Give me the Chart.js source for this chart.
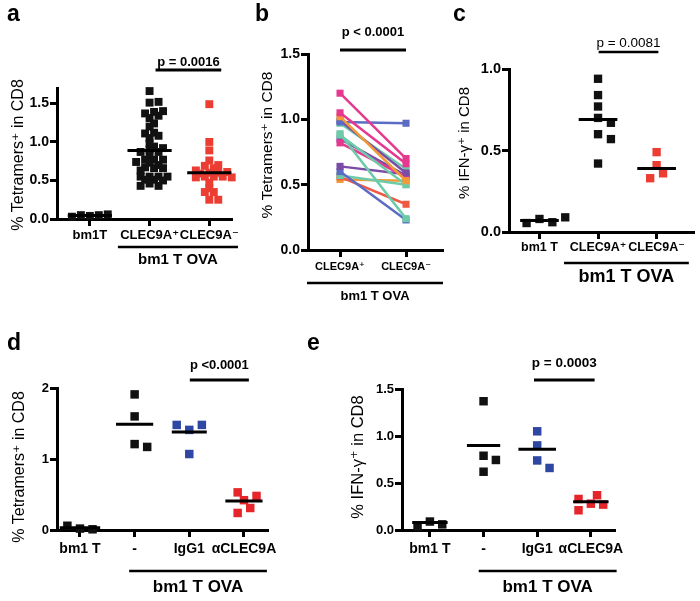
<!DOCTYPE html>
<html><head><meta charset="utf-8">
<script src="https://cdn.jsdelivr.net/npm/chart.js"></script>
<style>
html,body{margin:0;padding:0;background:#fff;}
#wrap{position:relative;width:700px;height:601px;overflow:hidden;background:#fff;}
#wrap canvas{position:absolute;left:0;top:0;}
</style></head><body>
<div id="wrap">
<canvas id="pa" width="700" height="601"></canvas>
<canvas id="pb" width="700" height="601"></canvas>
<canvas id="pc" width="700" height="601"></canvas>
<canvas id="pd" width="700" height="601"></canvas>
<canvas id="pe" width="700" height="601"></canvas>
</div>
<script>
// ---------------- DATA ----------------
// Panel a
const catsA = ['bm1T', 'CLEC9A\u207A', 'CLEC9A\u207B'];
const aBm1T = [0.05, 0.04, 0.06, 0.03, 0.05];
const aPos = [1.66, 1.51, 1.52, 1.40, 1.37, 1.31, 1.34, 1.39, 1.20, 1.24, 1.11, 1.12, 1.05, 1.08,
              0.98, 0.90, 0.87, 0.94, 0.92, 0.83, 0.87, 0.74, 0.77, 0.77, 0.77, 0.73, 0.67, 0.66,
              0.66, 0.63, 0.55, 0.55, 0.55, 0.51, 0.51, 0.46, 0.43, 0.43, 0.50, 0.55, 0.70];
const aNeg = [1.49, 1.00, 0.89, 0.76, 0.69, 0.70, 0.66, 0.63, 0.60, 0.59, 0.60, 0.61, 0.55, 0.54,
              0.54, 0.55, 0.55, 0.47, 0.35, 0.35, 0.40, 0.25, 0.25];
const aMedians = [0.045, 0.89, 0.60];
const aTicks = [0, 0.5, 1.0, 1.5];
const aTickLabels = ['0.0', '0.5', '1.0', '1.5'];

// Panel b (paired)
const catsB = ['CLEC9A\u207A', 'CLEC9A\u207B'];
const bBefore = [1.20, 1.05, 1.02, 0.98, 0.99, 0.97, 0.89, 0.88, 0.82, 0.85, 0.64, 0.60, 0.57, 0.56, 0.54];
const bAfter  = [0.70, 0.66, 0.53, 0.97, 0.59, 0.62, 0.24, 0.50, 0.56, 0.57, 0.58, 0.23, 0.50, 0.35, 0.53];
const bTicks = [0, 0.5, 1.0, 1.5];
const bTickLabels = ['0.0', '0.5', '1.0', '1.5'];

// Panel c
const catsC = ['bm1 T', 'CLEC9A\u207A', 'CLEC9A\u207B'];
const cBm1T = [0.08, 0.055, 0.09, 0.06];
const cPos = [0.94, 0.84, 0.77, 0.70, 0.67, 0.60, 0.57, 0.42];
const cNeg = [0.49, 0.41, 0.36, 0.33];
const cMedians = [0.07, 0.69, 0.39];
const cTicks = [0, 0.5, 1.0];
const cTickLabels = ['0.0', '0.5', '1.0'];

// Panel d
const catsD = ['bm1 T', '-', 'IgG1', '\u03B1CLEC9A'];
const dBm1T = [0.06, 0.01, 0.02];
const dNone = [1.91, 1.60, 1.21, 1.17];
const dIgG1 = [1.48, 1.41, 1.48, 1.07];
const dAnti = [0.48, 0.42, 0.53, 0.24, 0.31];
const dMedians = [0.03, 1.49, 1.38, 0.41];
const dTicks = [0, 1, 2];
const dTickLabels = ['0', '1', '2'];

// Panel e
const catsE = ['bm1 T', '-', 'IgG1', '\u03B1CLEC9A'];
const eBm1T = [0.09, 0.035, 0.06];
const eNone = [1.37, 0.79, 0.745, 0.62];
const eIgG1 = [1.05, 0.90, 0.74, 0.66];
const eAnti = [0.28, 0.37, 0.33, 0.27, 0.21];
const eMedians = [0.08, 0.90, 0.86, 0.30];
const eTicks = [0, 0.5, 1.0, 1.5];
const eTickLabels = ['0.0', '0.5', '1.0', '1.5'];

const pTexts = ['p = 0.0016', 'p < 0.0001', 'p = 0.0081', 'p <0.0001', 'p = 0.0003'];
const groupLabel = 'bm1 T OVA';
const titleTet = '% Tetramers\u207A in CD8';
const titleIfn = '% IFN-\u03B3\u207A in CD8';

// ---------------- STYLE ----------------
const FONT = '"Liberation Sans", Arial, Helvetica, "DejaVu Sans", sans-serif';
const BLACK = '#111111';
const RED_A = '#ec3d33';
const RED = '#e6252b';
const BLUE = '#2d47a2';
const bColors = ['#e5388e', '#e5388e', '#f29a38', '#5c6cc4', '#7b4ca5', '#6ecba9', '#6ecba9', '#6ecba9',
                 '#e5388e', '#7b4ca5', '#7b4ca5', '#5c6cc4', '#6ecba9', '#ef5a45', '#f29a38'];

// dot-plot placement (GraphPad-like swarm), offsets in category units
function swarm(values, center, median, yStep, xStep, thr) {
  const idx = values.map((v, i) => i).sort((a, b) => Math.abs(values[a] - median) - Math.abs(values[b] - median));
  const cands = [0];
  for (let k = 1; k <= 16; k++) cands.push(k * 0.5, -k * 0.5);
  const placed = [];
  const out = new Array(values.length);
  for (const i of idx) {
    const v = values[i];
    for (const c of cands) {
      const ok = placed.every(p => {
        const dx = (p.o - c), dy = (p.v - v) / yStep;
        return dx * dx + dy * dy >= thr * thr - 1e-9;
      });
      if (ok) { placed.push({ v, o: c }); out[i] = { x: center + c * xStep, y: v }; break; }
    }
  }
  return out;
}

function dots(values, center, median, color, r, sw) {
  return {
    data: swarm(values, center, median, sw.y, sw.x, sw.t),
    pointStyle: 'rect', pointRadius: r, pointHoverRadius: r,
    pointBackgroundColor: color, pointBorderWidth: 0, showLine: false, clip: false, order: 2
  };
}
function medianLine(center, m, half, width) {
  return {
    data: [{ x: center - half, y: m }, { x: center + half, y: m }],
    showLine: true, borderColor: '#000', borderWidth: width, pointRadius: 0, clip: false, order: 1
  };
}

const decorPlugin = {
  id: 'panelDecor',
  afterDraw(chart, args, o) {
    const ctx = chart.ctx, xs = chart.scales.x;
    ctx.save();
    ctx.fillStyle = '#000'; ctx.strokeStyle = '#000';
    ctx.font = 'bold ' + o.letter.size + 'px ' + FONT;
    ctx.textAlign = 'left'; ctx.textBaseline = 'alphabetic';
    ctx.fillText(o.letter.text, o.letter.x, o.letter.y);
    ctx.save();
    ctx.translate(o.yTitle.x, o.yTitle.y);
    ctx.rotate(-Math.PI / 2);
    ctx.font = (o.yTitle.weight || 'normal') + ' ' + o.yTitle.size + 'px ' + FONT;
    ctx.textAlign = 'center'; ctx.textBaseline = 'middle';
    ctx.fillText(o.yTitle.text, 0, 0);
    ctx.restore();
    const p = o.p;
    const p1 = xs.getPixelForValue(p.from), p2 = xs.getPixelForValue(p.to);
    ctx.lineWidth = p.lw; ctx.lineCap = 'butt';
    ctx.beginPath(); ctx.moveTo(p1, p.lineY); ctx.lineTo(p2, p.lineY); ctx.stroke();
    ctx.font = p.weight + ' ' + p.size + 'px ' + FONT;
    ctx.textAlign = 'center'; ctx.textBaseline = 'middle';
    ctx.fillText(p.text, (p1 + p2) / 2 + (p.dx || 0), p.textY);
    const g = o.group;
    const g1 = xs.getPixelForValue(g.from), g2 = xs.getPixelForValue(g.to);
    ctx.lineWidth = g.lw;
    ctx.beginPath(); ctx.moveTo(g1, g.lineY); ctx.lineTo(g2, g.lineY); ctx.stroke();
    ctx.font = 'bold ' + g.size + 'px ' + FONT;
    ctx.fillText(g.text, (g1 + g2) / 2 + (g.dx || 0), g.textY);
    ctx.restore();
  }
};

function makePanel(id, cfg) {
  const yW = 40, xH = 40;
  const W = 700, H = 601;
  const axisGrid = { display: true, drawOnChartArea: false, drawTicks: true, tickLength: 7, tickWidth: 3, tickColor: '#000', color: '#000' };
  return new Chart(document.getElementById(id), {
    type: 'scatter',
    data: { datasets: cfg.datasets },
    options: {
      responsive: false, animation: false, events: [],
      layout: { padding: { left: cfg.area.left - yW, top: cfg.area.top, right: W - cfg.area.right, bottom: H - cfg.area.bottom - xH } },
      plugins: { legend: { display: false }, tooltip: { enabled: false }, panelDecor: cfg.decor },
      scales: {
        x: {
          type: 'linear', min: cfg.xMin, max: cfg.xMax,
          afterBuildTicks: s => { s.ticks = cfg.cats.map((c, i) => ({ value: i })); },
          afterFit: s => { s.height = xH; },
          grid: axisGrid,
          border: { display: true, color: '#000', width: 3 },
          ticks: { color: '#000', padding: cfg.xPad, maxRotation: 0, minRotation: 0, autoSkip: false,
                   font: { family: FONT, size: cfg.xFont, weight: 'bold' },
                   callback: (v, i) => cfg.cats[i] }
        },
        y: {
          type: 'linear', min: 0, max: cfg.yMax,
          afterBuildTicks: s => { s.ticks = cfg.yTicks.map(v => ({ value: v })); },
          afterFit: s => { s.width = yW; },
          grid: axisGrid,
          border: { display: true, color: '#000', width: 3 },
          ticks: { color: '#000', padding: 1, autoSkip: false,
                   font: { family: FONT, size: cfg.yFont, weight: 'bold' },
                   callback: (v, i) => cfg.yLabels[i] }
        }
      }
    },
    plugins: [decorPlugin]
  });
}

// ---------------- PANELS ----------------
const swA = { y: 0.1, x: 0.15, t: 0.62 };
makePanel('pa', {
  area: { left: 57, top: 88, right: 232, bottom: 219 }, xMin: -0.55, xMax: 2.38, yMax: 1.7,
  cats: catsA, yTicks: aTicks, yLabels: aTickLabels, xFont: 13, yFont: 14, xPad: 2,
  datasets: [
    medianLine(0, aMedians[0], 0.37, 3), medianLine(1, aMedians[1], 0.37, 3), medianLine(2, aMedians[2], 0.37, 3),
    dots(aBm1T, 0, aMedians[0], BLACK, 5.6, swA),
    dots(aPos, 1, aMedians[1], BLACK, 5.6, swA),
    dots(aNeg, 2, aMedians[2], RED_A, 5.6, swA)
  ],
  decor: {
    letter: { text: 'a', x: 7, y: 21, size: 23 },
    yTitle: { text: titleTet, x: 19, y: 155, size: 16 },
    p: { text: pTexts[0], from: 1.1, to: 2.2, lineY: 70, textY: 62, size: 13, weight: 'bold', lw: 3 },
    group: { text: groupLabel, from: 0.47, to: 2.48, lineY: 247, textY: 260, size: 15, lw: 2.5 }
  }
});

makePanel('pb', {
  area: { left: 308, top: 54, right: 443, bottom: 250 }, xMin: -0.485, xMax: 1.56, yMax: 1.5,
  cats: catsB, yTicks: bTicks, yLabels: bTickLabels, xFont: 11, yFont: 14, xPad: 3,
  datasets: bBefore.map((v, i) => ({
    data: [{ x: 0, y: v }, { x: 1, y: bAfter[i] }],
    showLine: true, borderColor: bColors[i], borderWidth: 2.5,
    pointStyle: 'rect', pointRadius: 5, pointBackgroundColor: bColors[i], pointBorderWidth: 0, clip: false
  })),
  decor: {
    letter: { text: 'b', x: 255, y: 21, size: 23 },
    yTitle: { text: titleTet, x: 268, y: 145, size: 15.5 },
    p: { text: pTexts[1], from: 0, to: 1, lineY: 50, textY: 32, size: 13, weight: 'bold', lw: 3 },
    group: { text: groupLabel, from: -0.5, to: 1.56, lineY: 283, textY: 296, size: 13, lw: 2.5 }
  }
});

const swC = { y: 0.055, x: 0.22, t: 1.0 };
makePanel('pc', {
  area: { left: 509, top: 69, right: 697, bottom: 232 }, xMin: -0.52, xMax: 2.64, yMax: 1.0,
  cats: catsC, yTicks: cTicks, yLabels: cTickLabels, xFont: 12.5, yFont: 14.5, xPad: 1,
  datasets: [
    medianLine(0, cMedians[0], 0.33, 3), medianLine(1, cMedians[1], 0.33, 3), medianLine(2, cMedians[2], 0.33, 3),
    dots(cBm1T, 0, cMedians[0], BLACK, 5.9, swC),
    dots(cPos, 1, cMedians[1], BLACK, 5.9, swC),
    dots(cNeg, 2, cMedians[2], RED_A, 5.9, swC)
  ],
  decor: {
    letter: { text: 'c', x: 453, y: 21, size: 23 },
    yTitle: { text: titleIfn, x: 465, y: 143, size: 15 },
    p: { text: pTexts[2], from: 1.01, to: 2.03, lineY: 52, textY: 43, size: 13.5, weight: 'normal', lw: 2.5 },
    group: { text: groupLabel, from: 0.42, to: 2.55, lineY: 263, textY: 277, size: 18, lw: 2.5 }
  }
});

const swD = { y: 0.127, x: 0.23, t: 1.0 };
makePanel('pd', {
  area: { left: 57, top: 388, right: 268, bottom: 530 }, xMin: -0.42, xMax: 3.44, yMax: 2,
  cats: catsD, yTicks: dTicks, yLabels: dTickLabels, xFont: 14, yFont: 13, xPad: 4,
  datasets: [
    medianLine(0, dMedians[0], 0.37, 3), medianLine(1, dMedians[1], 0.34, 3),
    medianLine(2, dMedians[2], 0.32, 3), medianLine(3, dMedians[3], 0.34, 3),
    dots(dBm1T, 0, dMedians[0], BLACK, 6, swD),
    dots(dNone, 1, dMedians[1], BLACK, 6, swD),
    dots(dIgG1, 2, dMedians[2], BLUE, 6, swD),
    dots(dAnti, 3, dMedians[3], RED, 6, swD)
  ],
  decor: {
    letter: { text: 'd', x: 7, y: 350, size: 23 },
    yTitle: { text: titleTet, x: 20, y: 467, size: 16 },
    p: { text: pTexts[3], from: 2.01, to: 3.09, lineY: 380, textY: 365, size: 13, weight: 'bold', lw: 3 },
    group: { text: groupLabel, from: 0.9, to: 3.42, lineY: 571, textY: 587, size: 17, lw: 2.5 }
  }
});

const swE = { y: 0.096, x: 0.23, t: 1.0 };
makePanel('pe', {
  area: { left: 402, top: 389, right: 615, bottom: 530 }, xMin: -0.52, xMax: 3.45, yMax: 1.5,
  cats: catsE, yTicks: eTicks, yLabels: eTickLabels, xFont: 14, yFont: 13, xPad: 4,
  datasets: [
    medianLine(0, eMedians[0], 0.33, 3), medianLine(1, eMedians[1], 0.31, 3),
    medianLine(2, eMedians[2], 0.35, 3), medianLine(3, eMedians[3], 0.33, 3),
    dots(eBm1T, 0, eMedians[0], BLACK, 6, swE),
    dots(eNone, 1, eMedians[1], BLACK, 6, swE),
    dots(eIgG1, 2, eMedians[2], BLUE, 6, swE),
    dots(eAnti, 3, eMedians[3], RED, 6, swE)
  ],
  decor: {
    letter: { text: 'e', x: 307, y: 350, size: 23 },
    yTitle: { text: titleIfn, x: 358, y: 457, size: 16.5 },
    p: { text: pTexts[4], from: 1.94, to: 3.07, lineY: 380, textY: 363, size: 13.5, weight: 'bold', lw: 3 },
    group: { text: groupLabel, from: 0.91, to: 3.48, lineY: 571, textY: 587, size: 17, lw: 2.5 }
  }
});
</script>
</body></html>
